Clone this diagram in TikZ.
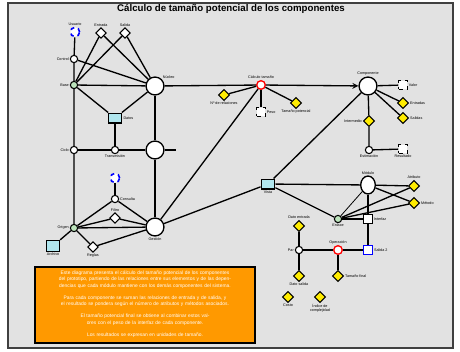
\documentclass[tikz,border=0pt]{standalone}
\usepackage{fontspec}
\setmainfont{Liberation Sans}
\usetikzlibrary{shapes.geometric,arrows.meta}
\definecolor{panelgray}{RGB}{226,226,226}
\definecolor{boxorange}{RGB}{255,153,0}
\definecolor{nodegreen}{RGB}{188,228,188}
\definecolor{nodecyan}{RGB}{176,230,238}
\definecolor{nodeyellow}{RGB}{255,236,0}
\begin{document}
\begin{tikzpicture}[x=0.0265cm,y=-0.0265cm,>=stealth,
	link/.style={line width=1pt},
	lbl/.style={font=\fontsize{2.8}{3}\selectfont,inner sep=0.6pt},
	bignode/.style={circle,draw,line width=1pt,fill=white,minimum size=13.5pt,inner sep=0pt},
	bigoval/.style={ellipse,draw,line width=1pt,fill=white,minimum width=11pt,minimum height=13.5pt,inner sep=0pt},
	dot/.style={circle,draw,line width=0.8pt,fill=white,minimum size=5.5pt,inner sep=0pt},
	greendot/.style={dot,fill=nodegreen},
	wdiam/.style={diamond,draw,line width=0.8pt,fill=white,minimum size=8pt,inner sep=0pt},
	ydiam/.style={diamond,draw,line width=0.8pt,fill=nodeyellow,minimum size=8.5pt,inner sep=0pt},
	cyanbox/.style={rectangle,draw,line width=0.8pt,fill=nodecyan,minimum width=10.5pt,minimum height=7.5pt,inner sep=0pt},
	redring/.style={circle,draw=red,line width=1pt,fill=white,minimum size=6.5pt,inner sep=0pt},
	bluesq/.style={rectangle,draw=blue,line width=1pt,fill=white,minimum size=6.5pt,inner sep=0pt},
	blueicon/.style={circle,draw=blue,dashed,line width=1.2pt,fill=white,minimum size=7pt,inner sep=0pt},
	dashsq/.style={rectangle,draw,dashed,line width=0.8pt,fill=white,minimum size=6.5pt,inner sep=0pt}]
	\useasboundingbox (0,0) rectangle (460,351);
	\fill[white] (0,0) rectangle (460,351);
	\draw[line width=1.3pt,draw=black!75,fill=panelgray] (8,3) rectangle (453,348);
	\node (titulo) at (231,9) {\fontsize{7.3}{8}\selectfont\bfseries Cálculo de tamaño potencial de los componentes};

	\node[blueicon,label={[lbl]above:Usuario}] (usr) at (75,32) {};
	\node[wdiam,label={[lbl]above:Entrada}] (ent) at (101,33) {};
	\node[wdiam,label={[lbl]above:Salida}] (sal) at (125,33) {};
	\node[dot,label={[lbl]left:Control}] (ctl) at (74,59) {};
	\node[greendot,label={[lbl]left:Base}] (base) at (74,85) {};
	\node[bignode,label={[lbl]above right:Núcleo}] (nucleo) at (155,86) {};
	\node[cyanbox,label={[lbl]right:Datos}] (datos) at (115,118) {};
	\node[dot,label={[lbl]left:Ciclo}] (ciclo) at (74,150) {};
	\node[dot,label={[lbl]below:Transmisión}] (trans) at (115,150) {};
	\node[bignode] (proceso) at (155,150) {};
	\coordinate (procfin) at (176,150);
	\node[blueicon] (usr2) at (115,178) {};
	\node[dot,label={[lbl]right:Consulta}] (cons) at (115,199) {};
	\node[wdiam,label={[lbl]above:Filtro}] (filtro) at (115,218) {};
	\node[greendot,label={[lbl]left:Origen}] (origen) at (74,228) {};
	\node[bignode,label={[lbl]below:Gestión}] (gestion) at (155,227) {};
	\node[cyanbox,minimum width=10pt,minimum height=8.5pt,label={[lbl]below:Archivo}] (arch) at (53,246) {};
	\node[wdiam,label={[lbl]below:Reglas}] (reglas) at (93,247) {};

	\node[redring,label={[lbl]above:Cálculo tamaño}] (calc) at (261,85) {};
	\node[ydiam,label={[lbl]below:Nº de relaciones}] (nrel) at (224,95) {};
	\node[ydiam,label={[lbl]below:Tamaño potencial}] (tpot) at (296,103) {};
	\node[dashsq,label={[lbl]right:Peso}] (peso) at (261,112) {};
	\node[bignode,label={[lbl]above:Componente}] (comp) at (368,86) {};
	\node[dashsq,label={[lbl]right:Valor}] (valor) at (403,85) {};
	\node[ydiam,label={[lbl]right:Entradas}] (ents) at (403,103) {};
	\node[ydiam,label={[lbl]right:Salidas}] (sals) at (403,118) {};
	\node[ydiam,label={[lbl]left:Intermedio}] (inter) at (369,121) {};
	\node[dot,label={[lbl]below:Estimación}] (estim) at (369,150) {};
	\node[dashsq,label={[lbl]below:Resultado}] (res) at (403,149) {};

	\node[cyanbox,label={[lbl]below:Vista}] (vista) at (268,184) {};
	\node[bigoval,label={[lbl]above:Módulo}] (modulo) at (368,185) {};
	\node[ydiam,label={[lbl]above:Atributo}] (atrib) at (414,186) {};
	\node[ydiam,label={[lbl]right:Método}] (metodo) at (414,203) {};
	\node[greendot,label={[lbl]below:Enlace}] (enlace) at (338,219) {};
	\node[dot,rectangle,minimum size=6.5pt,label={[lbl]right:Interfaz}] (interfaz) at (368,219) {};
	\node[ydiam,label={[lbl]above:Dato entrada}] (dent) at (299,226) {};
	\node[dot,label={[lbl]left:Par}] (par) at (299,250) {};
	\node[redring,label={[lbl]above:Operación}] (oper) at (338,250) {};
	\node[bluesq,label={[lbl]right:Salida 2}] (sal2) at (368,250) {};
	\node[ydiam,label={[lbl]below:Dato salida}] (dsal) at (299,276) {};
	\node[ydiam,label={[lbl]right:Tamaño final}] (tfin) at (338,276) {};
	\node[ydiam,label={[lbl]below:Costo}] (costo) at (288,297) {};
	\node[ydiam,label={[lbl,align=center]below:Índice de\\complejidad}] (indice) at (320,297) {};

	\draw[link] (usr) -- (ctl) -- (base) -- (ciclo) -- (origen);
	\draw[link] (ent) -- (base);
	\draw[link] (sal) -- (base);
	\draw[link] (ent) -- (nucleo);
	\draw[link] (sal) -- (nucleo);
	\draw[link] (ctl) -- (nucleo);
	\draw[link] (base) -- (nucleo);
	\draw[link] (base) -- (datos);
	\draw[link] (nucleo) -- (datos);
	\draw[link] (datos) -- (trans);
	\draw[link] (ciclo) -- (trans) -- (proceso) -- (procfin);
	\draw[link] (nucleo) -- (proceso) -- (gestion);
	\draw[link] (usr2) -- (cons);
	\draw[link] (cons) -- (origen);
	\draw[link] (cons) -- (gestion);
	\draw[link] (filtro) -- (origen);
	\draw[link] (filtro) -- (gestion);
	\draw[link] (origen) -- (gestion);
	\draw[link] (origen) -- (arch);
	\draw[link] (origen) -- (reglas) -- (gestion);
	\draw[link] (gestion) -- (calc);
	\draw[link] (gestion) -- (vista);

	\draw[link] (nucleo) -- (calc);
	\draw[link,->] (calc) -- (comp);
	\draw[link] (calc) -- (nrel);
	\draw[link] (calc) -- (tpot);
	\draw[link] (calc) -- (peso);
	\draw[link] (comp) -- (valor);
	\draw[link] (comp) -- (ents);
	\draw[link] (comp) -- (sals);
	\draw[link] (comp) -- (inter) -- (estim) -- (res);
	\draw[link] (comp) -- (vista);

	\draw[link] (vista) -- (modulo);
	\draw[link] (vista) -- (enlace);
	\draw[link] (modulo) -- (atrib);
	\draw[link] (modulo) -- (metodo);
	\draw[line width=0.6pt] (enlace) -- (modulo);
	\draw[link] (enlace) -- (atrib);
	\draw[link] (enlace) -- (metodo);
	\draw[link] (enlace) -- (interfaz);
	\draw[link] (modulo) -- (interfaz) -- (sal2);
	\draw[link] (par) -- (oper) -- (sal2);
	\draw[link] (dent) -- (par) -- (dsal);
	\draw[link] (oper) -- (tfin);

	\draw[line width=1pt,fill=boxorange] (35,267) rectangle (255,343);
	\node[text=white,text width=162pt,align=center,inner sep=0pt,
		font=\fontsize{3.7}{5}\selectfont] (nota) at (145,304) {Este diagrama presenta el cálculo del tamaño potencial de los componentes del prototipo, partiendo de las relaciones entre sus elementos y de las dependencias que cada módulo mantiene con los demás componentes del sistema.\\[4pt]
		Para cada componente se suman las relaciones de entrada y de salida, y el resultado se pondera según el número de atributos y métodos asociados.\\[4pt]
		El tamaño potencial final se obtiene al combinar estos valores con el peso de la interfaz de cada componente.\\[4pt]
		Los resultados se expresan en unidades de tamaño.};
\end{tikzpicture}
\end{document}
